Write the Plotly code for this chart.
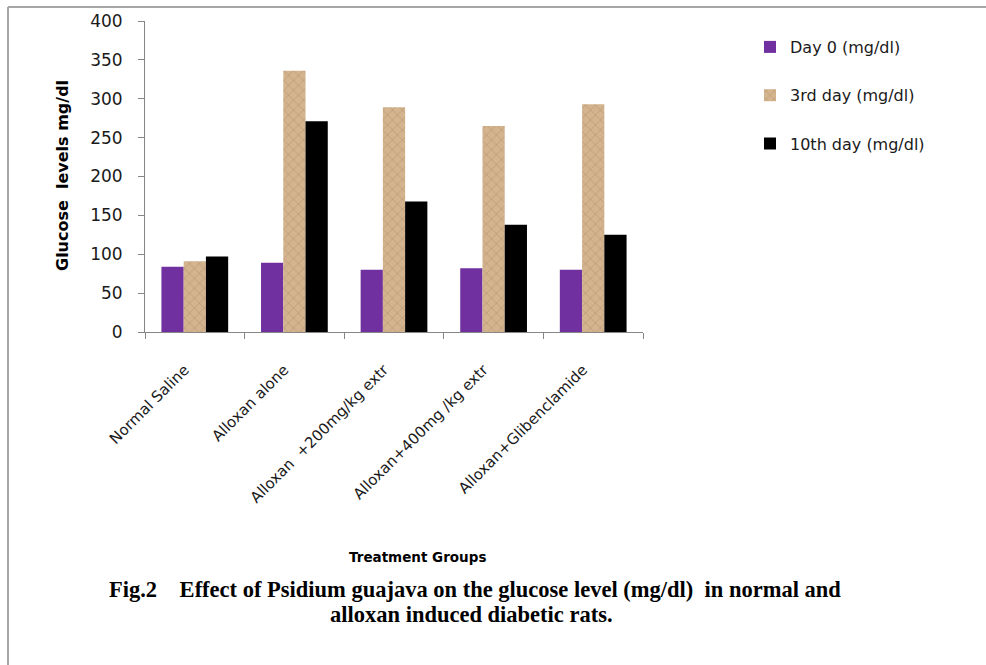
import plotly.graph_objects as go

categories = ["Normal Saline", "Alloxan alone", "Alloxan  +200mg/kg extr",
              "Alloxan+400mg /kg extr", "Alloxan+Glibenclamide"]
day0 = [84, 89, 80, 82, 80]
day3 = [91, 336, 289, 265, 293]
day10 = [97, 271, 168, 138, 125]
series_names = ["Day 0 (mg/dl)", "3rd day (mg/dl)", "10th day (mg/dl)"]
y_ticks = [0, 50, 100, 150, 200, 250, 300, 350, 400]

W, H = 986, 665
L, R, T, B = 145, 643, 21, 332
pw, ph = R - L, B - T

def px_x(x):
    return (x - L) / pw

def px_y(y):
    return (B - y) / ph

fig = go.Figure()
fig.add_trace(go.Bar(x=categories, y=day0, name=series_names[0],
                     marker=dict(color="#7030A0", line=dict(width=0)),
                     legendgroup="a"))
fig.add_trace(go.Bar(x=categories, y=day3, name=series_names[1],
                     marker=dict(color="#c9a47b", line=dict(width=0),
                                 pattern=dict(shape="x", fgcolor="#8a6a48",
                                              bgcolor="#d4b48e", size=7,
                                              solidity=0.12, fgopacity=0.6)),
                     legendgroup="b"))
fig.add_trace(go.Bar(x=categories, y=day10, name=series_names[2],
                     marker=dict(color="#000000", line=dict(width=0)),
                     legendgroup="c"))

font = "'DejaVu Sans', sans-serif"
serif = "'Liberation Serif', 'DejaVu Serif', serif"

fig.update_layout(
    width=W, height=H,
    margin=dict(l=L, r=W - R, t=T, b=H - B, pad=0),
    paper_bgcolor="white", plot_bgcolor="white",
    barmode="group", bargap=0.33, bargroupgap=0,
    font=dict(family=font, color="#1a1a1a"),
    legend=dict(x=px_x(750), y=px_y(30), xanchor="left", yanchor="top",
                font=dict(size=16, family=font, color="#1a1a1a"),
                tracegroupgap=24.5, traceorder="grouped",
                bgcolor="rgba(0,0,0,0)"),
    showlegend=True,
)
fig.update_xaxes(
    type="category", automargin=False, showline=True, linecolor="#868686",
    linewidth=1, ticks="outside", tickson="boundaries", ticklen=6,
    tickcolor="#868686", tickangle=-45, tickfont=dict(size=15, family=font),
    tickvals=categories,
    ticktext=[c + "&nbsp;&nbsp;&nbsp;" for c in categories],
    ticklabelstandoff=12,
    showgrid=False, mirror=False,
)
fig.update_yaxes(
    range=[0, 400], tickvals=y_ticks, automargin=False, showline=True,
    linecolor="#868686", linewidth=1, ticks="outside", ticklen=6,
    tickcolor="#868686", tickfont=dict(size=17, family=font),
    ticklabelstandoff=12,
    showgrid=False, zeroline=False,
)

annotations = [
    dict(text="<b>Glucose  levels mg/dl</b>", x=px_x(62), y=px_y(176), xref="paper",
         yref="paper", textangle=-90, showarrow=False,
         xanchor="center", yanchor="middle",
         font=dict(size=16, family=font, color="#000")),
    dict(text="<b>Treatment Groups</b>", x=px_x(417), y=px_y(557), xref="paper",
         yref="paper", showarrow=False, xanchor="center", yanchor="middle",
         font=dict(size=13.5, family=font, color="#000")),
    dict(text="<b>Fig.2&nbsp;&nbsp;&nbsp; Effect of Psidium guajava on the glucose level (mg/dl)&nbsp; in normal and</b>",
         x=px_x(475), y=px_y(589), xref="paper", yref="paper", showarrow=False,
         xanchor="center", yanchor="middle",
         font=dict(size=22.5, family=serif, color="#000")),
    dict(text="<b>alloxan induced diabetic rats.</b>",
         x=px_x(471), y=px_y(614), xref="paper", yref="paper", showarrow=False,
         xanchor="center", yanchor="middle",
         font=dict(size=22.5, family=serif, color="#000")),
]
fig.update_layout(annotations=annotations)

shapes = [
    dict(type="line", xref="paper", yref="paper", x0=px_x(8), x1=px_x(990),
         y0=px_y(7), y1=px_y(7), line=dict(color="#a6a6a6", width=2)),
    dict(type="line", xref="paper", yref="paper", x0=px_x(8), x1=px_x(8),
         y0=px_y(7), y1=px_y(670), line=dict(color="#a6a6a6", width=2)),
]
fig.update_layout(shapes=shapes)

fig.write_html("out.html", config={"displayModeBar": False},
               post_script="document.body.style.margin='0';")
